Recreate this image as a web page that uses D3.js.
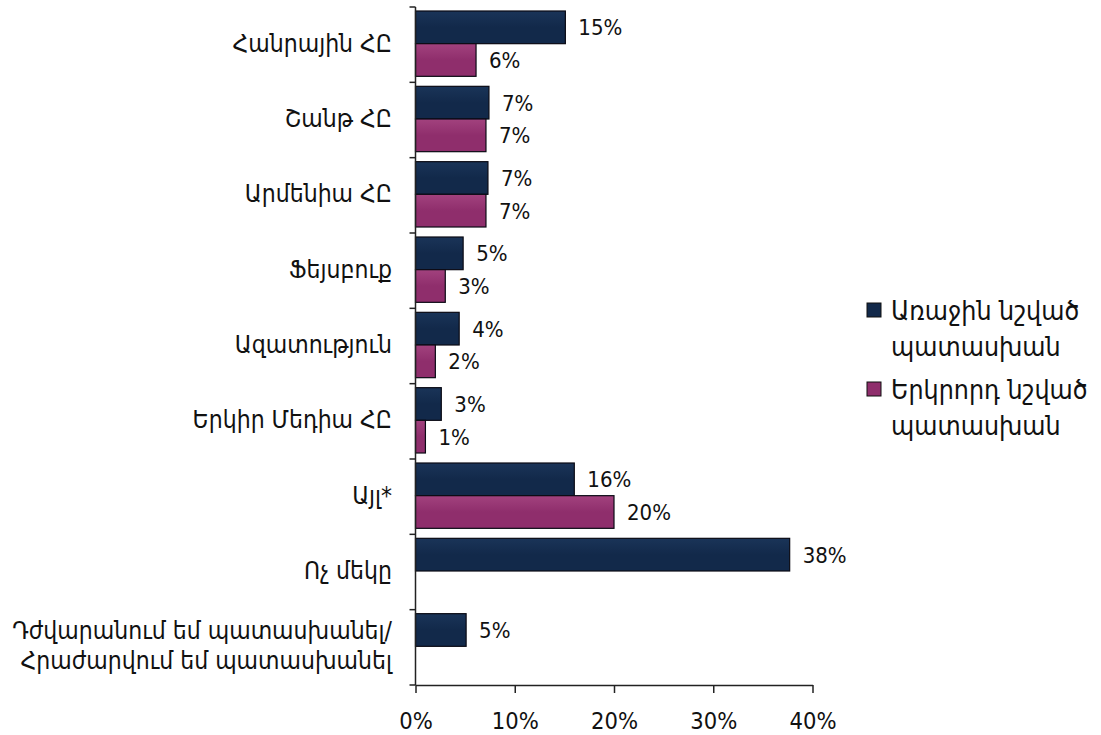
<!DOCTYPE html>
<html>
<head>
<meta charset="utf-8">
<script src="https://cdn.jsdelivr.net/npm/d3@7"></script>
<style>
  html, body { margin: 0; padding: 0; background: #fff; }
  svg { display: block; }
  text { font-family: "DejaVu Sans Condensed", "DejaVu Sans", sans-serif; fill: #111; }
</style>
</head>
<body>
<svg id="chart" width="1101" height="735"></svg>
<script>
const categories = [
  "Հանրային ՀԸ",
  "Շանթ ՀԸ",
  "Արմենիա ՀԸ",
  "Ֆեյսբուք",
  "Ազատություն",
  "Երկիր Մեդիա ՀԸ",
  "Այլ*",
  "Ոչ մեկը",
  "Դժվարանում եմ պատասխանել/|Հրաժարվում եմ պատասխանել"
];
const firstValues  = [15.1, 7.4, 7.3, 4.8, 4.4, 2.6, 16.0, 37.7, 5.1];
const secondValues = [6.1, 7.1, 7.1, 3.0, 2.0, 1.0, 20.0, null, null];
const seriesNames = [
  ["Առաջին նշված", "պատասխան"],
  ["Երկրորդ նշված", "պատասխան"]
];
const xTickValues = [0, 10, 20, 30, 40];

const colors = ["#12294a", "#8f2e6c"];
const colorsLight = ["#1a3458", "#a2427e"];

const svg = d3.select("#chart");

const defs = svg.append("defs");
colors.forEach((c, i) => {
  const g = defs.append("linearGradient").attr("id", "grad" + i)
    .attr("x1", "0").attr("y1", "0").attr("x2", "0").attr("y2", "1");
  g.append("stop").attr("offset", "0%").attr("stop-color", colorsLight[i]);
  g.append("stop").attr("offset", "50%").attr("stop-color", c);
  g.append("stop").attr("offset", "100%").attr("stop-color", c);
});

const x = d3.scaleLinear().domain([0, 40]).range([415.5, 812.5]);
const y = d3.scaleBand().domain(categories).range([7, 685]);
const bw = y.bandwidth();
const inner = d3.scaleBand().domain([0, 1]).range([4, bw - 6]);

const rows = categories.map((c, i) => ({ cat: c, vals: [firstValues[i], secondValues[i]] }));

// bars
const groups = svg.append("g").selectAll("g.row").data(rows).enter()
  .append("g").attr("class", "row")
  .attr("transform", d => `translate(0,${y(d.cat)})`);

const fmt = v => d3.format(".0f")(v) + "%";

groups.each(function(d) {
  const g = d3.select(this);
  d.vals.forEach((v, si) => {
    if (v == null) return;
    g.append("rect")
      .attr("x", x(0))
      .attr("y", inner(si))
      .attr("width", x(v) - x(0))
      .attr("height", inner.bandwidth())
      .attr("fill", `url(#grad${si})`)
      .attr("stroke", "#0a0a14")
      .attr("stroke-width", 1.2);
    g.append("text")
      .attr("x", x(v) + 13)
      .attr("y", inner(si) + inner.bandwidth() / 2)
      .attr("dy", "0.36em")
      .attr("font-size", 22)
      .text(fmt(v));
  });
});

// left axis line and band-edge ticks
const axisG = svg.append("g");
axisG.append("line")
  .attr("x1", x(0)).attr("x2", x(0))
  .attr("y1", y.range()[0]).attr("y2", y.range()[1])
  .attr("stroke", "#222").attr("stroke-width", 1.5);
const edges = categories.map(c => y(c)).concat([y.range()[1]]);
axisG.selectAll("line.tick").data(edges).enter().append("line")
  .attr("class", "tick")
  .attr("x1", x(0) - 6).attr("x2", x(0))
  .attr("y1", d => d).attr("y2", d => d)
  .attr("stroke", "#222").attr("stroke-width", 1.5);

// category labels
svg.append("g").selectAll("text.cat").data(categories).enter()
  .append("text").attr("class", "cat")
  .attr("text-anchor", "end")
  .attr("font-size", 24.5)
  .each(function(c) {
    const lines = c.split("|");
    const cy = y(c) + bw / 2;
    const lh = 30;
    const t = d3.select(this);
    lines.forEach((ln, k) => {
      t.append("tspan")
        .attr("x", 392)
        .attr("y", cy + (k - (lines.length - 1) / 2) * lh)
        .attr("dy", "0.28em")
        .text(ln);
    });
  });

// bottom axis
const xAxis = d3.axisBottom(x).tickValues(xTickValues)
  .tickFormat(d => d + "%").tickSize(8).tickSizeOuter(0);
const xg = svg.append("g").attr("transform", `translate(0,${y.range()[1]})`).call(xAxis);
xg.select(".domain").attr("stroke", "#222").attr("stroke-width", 1.5);
xg.selectAll(".tick line").attr("stroke", "#222").attr("stroke-width", 1.5);
xg.selectAll(".tick text")
  .attr("font-size", 23.5)
  .attr("font-family", "'DejaVu Sans Condensed', 'DejaVu Sans', sans-serif")
  .attr("fill", "#111")
  .attr("y", 27)
  .attr("dy", "0.71em");

// legend
const legend = svg.append("g");
const legendTops = [303, 382];
seriesNames.forEach((lines, i) => {
  legend.append("rect")
    .attr("x", 867).attr("y", legendTops[i])
    .attr("width", 14).attr("height", 14)
    .attr("fill", colors[i]).attr("stroke", "#111").attr("stroke-width", 1);
  const t = legend.append("text").attr("font-size", 26.5)
    .attr("font-family", "'DejaVu Sans', sans-serif");
  lines.forEach((ln, k) => {
    t.append("tspan").attr("x", 891).attr("y", legendTops[i] + 17 + k * 36)
      .text(ln);
  });
});
</script>
</body>
</html>
